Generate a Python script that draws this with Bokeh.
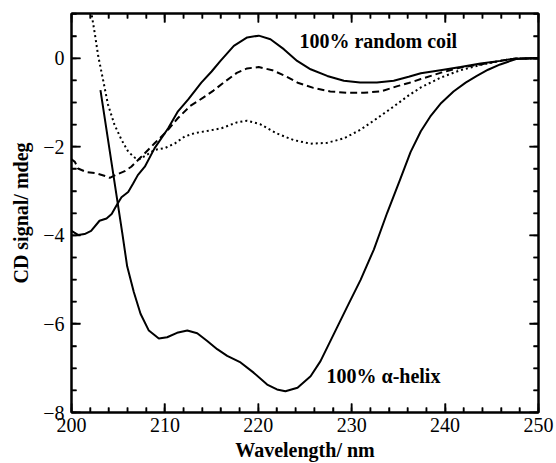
from bokeh.plotting import figure
from bokeh.models import Range1d, LinearAxis, Label, SingleIntervalTicker
from bokeh.embed import file_html
from bokeh.resources import INLINE

# Random coil (solid, upper)
rc_x = [200, 200.7, 201.4, 202.1, 203.0, 203.75, 204.3, 204.8, 205.35, 206.07, 206.6, 207.1, 207.85,
        208.9, 210.35, 211.4, 212.5, 213.9, 215.0, 215.95, 217.38, 218.81, 220.05, 221.3, 222.73,
        224.16, 225.6, 227.38, 229.16, 230.9, 232.7, 234.5, 236.1, 237.4, 239.5, 241.65, 243.8,
        245.9, 247.4, 250]
rc_y = [-3.90, -3.99, -3.97, -3.90, -3.67, -3.62, -3.52, -3.33, -3.14, -3.02, -2.83, -2.64, -2.45,
        -2.03, -1.58, -1.20, -0.93, -0.55, -0.30, -0.06, 0.28, 0.47, 0.51, 0.43, 0.205,
        -0.06, -0.25, -0.40, -0.51, -0.55, -0.55, -0.51, -0.42, -0.34, -0.27, -0.20, -0.12,
        -0.06, -0.01, 0]

# Dashed curve
da_x = [200, 200.36, 200.7, 201.6, 202.7, 203.6, 204.1, 204.8, 205.7, 206.4, 207.5, 208.9, 210.2,
        211.4, 212.7, 214.1, 215.2, 216.3, 217.7, 218.8, 220.05, 221.5, 222.9, 224.3, 225.9, 227.7,
        229.5, 231.3, 233.1, 234.9, 236.1, 237.4, 239.5, 241.65, 243.8, 245.9, 247.4, 250]
da_y = [-2.28, -2.34, -2.49, -2.57, -2.60, -2.66, -2.70, -2.63, -2.55, -2.45, -2.22, -1.92, -1.65,
        -1.35, -1.08, -0.89, -0.73, -0.55, -0.33, -0.23, -0.20, -0.27, -0.40, -0.56, -0.67, -0.75,
        -0.78, -0.78, -0.75, -0.63, -0.56, -0.47, -0.33, -0.21, -0.14, -0.06, -0.01, 0]

# Dotted curve
do_x = [202.0, 202.5, 202.85, 203.4, 203.9, 204.6, 205.35, 206.07, 206.8, 207.3, 208.0, 208.9, 210.0,
        211.1, 212.1, 213.2, 214.6, 216.06, 217.7, 218.8, 220.2, 222.0, 223.8, 225.6, 227.38, 229.16,
        230.9, 232.7, 234.5, 236.1, 237.4, 239.5, 241.65, 243.8, 245.9, 247.4, 250]
do_y = [1.19, 0.55, 0.06, -0.51, -1.04, -1.50, -1.84, -2.11, -2.25, -2.28, -2.19, -2.07, -2.03,
        -1.92, -1.77, -1.69, -1.64, -1.58, -1.45, -1.41, -1.49, -1.70, -1.85, -1.93, -1.91, -1.81,
        -1.62, -1.36, -1.09, -0.84, -0.66, -0.44, -0.27, -0.15, -0.06, -0.01, 0]

# 100% alpha-helix (solid, lower)
ah_x = [203.1, 205.43, 205.96, 206.67, 207.39, 208.28, 209.35, 210.24, 211.3, 212.4, 213.46, 214.5,
        215.6, 216.67, 218.1, 219.5, 220.95, 222.0, 222.9, 224.2, 225.6, 226.66, 228.08, 229.5,
        230.94, 232.37, 233.8, 235.2, 236.3, 237.4, 238.4, 239.5, 240.9, 242.2, 243.4, 244.6,
        245.9, 247.6, 249, 250]
ah_y = [-0.72, -3.94, -4.70, -5.28, -5.77, -6.15, -6.33, -6.30, -6.20, -6.15, -6.21, -6.38,
        -6.57, -6.72, -6.87, -7.10, -7.37, -7.48, -7.52, -7.44, -7.18, -6.84, -6.23, -5.62,
        -5.01, -4.32, -3.49, -2.73, -2.12, -1.65, -1.32, -1.03, -0.75, -0.55, -0.40, -0.26,
        -0.14, -0.02, 0, 0]

# Tick positions
x_major = [200, 210, 220, 230, 240, 250]
x_minor = [202, 204, 206, 208, 212, 214, 216, 218, 222, 224, 226, 228,
           232, 234, 236, 238, 242, 244, 246, 248]
y_major = [-8, -6, -4, -2, 0]
y_minor = [-7.5, -7, -6.5, -5.5, -5, -4.5, -3.5, -3, -2.5, -1.5, -1, -0.5, 0.5, 1.0]

X0, X1, Y0, Y1 = 200, 250, -8, 1.01
FONT = "Liberation Serif"

p = figure(width=556, height=463, output_backend="svg", toolbar_location=None,
           x_range=Range1d(X0, X1), y_range=Range1d(Y0, Y1),
           min_border_left=71, min_border_right=18, min_border_top=13, min_border_bottom=10)
p.grid.visible = False
p.outline_line_color = "black"
p.outline_line_width = 2

p.line(rc_x, rc_y, line_color="black", line_width=2)
p.line(da_x, da_y, line_color="black", line_width=2, line_dash="7 4")
p.line(do_x, do_y, line_color="black", line_width=2, line_dash="2 3")
p.line(ah_x, ah_y, line_color="black", line_width=2)

# inward tick marks on all four sides (lengths: ~9 px major, ~5 px minor)
xmaj_len, xmin_len = 0.205, 0.114   # in y data units
ymaj_len, ymin_len = 0.96, 0.54     # in x data units
for xs, ln in [(x_major, xmaj_len), (x_minor, xmin_len)]:
    p.segment(x0=xs, y0=[Y0] * len(xs), x1=xs, y1=[Y0 + ln] * len(xs), line_color="black", line_width=1.5)
    p.segment(x0=xs, y0=[Y1] * len(xs), x1=xs, y1=[Y1 - ln] * len(xs), line_color="black", line_width=1.5)
for ys, ln in [(y_major, ymaj_len), (y_minor, ymin_len)]:
    p.segment(x0=[X0] * len(ys), y0=ys, x1=[X0 + ln] * len(ys), y1=ys, line_color="black", line_width=1.5)
    p.segment(x0=[X1] * len(ys), y0=ys, x1=[X1 - ln] * len(ys), y1=ys, line_color="black", line_width=1.5)

def style(ax, labels=True):
    ax.axis_line_width = 2
    ax.axis_line_color = "black"
    ax.major_tick_in = 9
    ax.major_tick_out = 0
    ax.minor_tick_in = 5
    ax.minor_tick_out = 0
    ax.major_tick_line_width = 1.5
    ax.minor_tick_line_width = 1.5
    ax.major_tick_line_color = "black"
    ax.minor_tick_line_color = "black"
    ax.major_label_text_font = FONT
    ax.major_label_text_font_size = "20px"
    ax.major_label_text_color = "black"
    ax.axis_label_text_font = FONT
    ax.axis_label_text_font_size = "20px"
    ax.axis_label_text_font_style = "bold"
    ax.axis_label_text_color = "black"
    if not labels:
        ax.major_label_text_font_size = "0px"
        ax.major_label_text_alpha = 0
        ax.major_label_standoff = 0

p.xaxis.ticker = SingleIntervalTicker(interval=10, num_minor_ticks=5)
p.yaxis.ticker = SingleIntervalTicker(interval=2, num_minor_ticks=4)
style(p.xaxis[0])
style(p.yaxis[0])
p.xaxis.axis_label = "Wavelength/ nm"
p.yaxis.axis_label = "CD signal/ mdeg"
p.xaxis.major_label_standoff = 5
p.yaxis.major_label_standoff = 7
p.xaxis.axis_label_standoff = 4
p.yaxis.axis_label_standoff = 8

top = LinearAxis(ticker=SingleIntervalTicker(interval=10, num_minor_ticks=5))
style(top, labels=False)
p.add_layout(top, "above")
right = LinearAxis(ticker=SingleIntervalTicker(interval=2, num_minor_ticks=4))
style(right, labels=False)
p.add_layout(right, "right")

p.add_layout(Label(x=224.4, y=0.4, text="100% random coil", text_font=FONT, text_font_size="20px",
                   text_font_style="bold", text_baseline="middle", text_color="black"))
p.add_layout(Label(x=227.3, y=-7.18, text="100% \u03b1-helix", text_font=FONT, text_font_size="20px",
                   text_font_style="bold", text_baseline="middle", text_color="black"))

open("out.html", "w").write(file_html(p, INLINE))
